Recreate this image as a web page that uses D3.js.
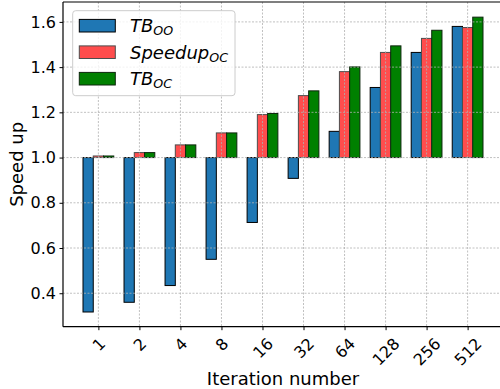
<!DOCTYPE html>
<html>
<head>
<meta charset="utf-8">
<script src="https://cdn.jsdelivr.net/npm/d3@7"></script>
<style>
body { margin: 0; background: #fff; }
text { font-family: "DejaVu Sans", sans-serif; }
</style>
</head>
<body>
<svg id="chart" width="500" height="389"></svg>
<script>
const categories = ["1", "2", "4", "8", "16", "32", "64", "128", "256", "512"];
const tbOO = [0.317, 0.360, 0.434, 0.550, 0.713, 0.908, 1.116, 1.310, 1.465, 1.580];
const speedupOC = [1.007, 1.022, 1.056, 1.109, 1.190, 1.274, 1.380, 1.465, 1.527, 1.575];
const tbOC = [1.007, 1.022, 1.056, 1.109, 1.195, 1.295, 1.401, 1.494, 1.563, 1.621];
const yTicks = [0.4, 0.6, 0.8, 1.0, 1.2, 1.4, 1.6];
const seriesNames = [["TB", "OO"], ["Speedup", "OC"], ["TB", "OC"]];

const series = [
  { values: tbOO, fill: "#1f77b4", stroke: "#000", offset: -1 },
  { values: speedupOC, fill: "#ff4d4d", stroke: "#4d4d4d", offset: 0 },
  { values: tbOC, fill: "#008000", stroke: "#0d260d", offset: 1 }
];

const svg = d3.select("#chart");
const mLeft = 63, mRight = 503, mTop = 2, mBottom = 326.7;
const barW = 0.25;

const x = d3.scaleLinear().domain([-0.8625, 9.8625]).range([mLeft, mRight]);
const y = d3.scaleLinear().domain([0.252, 1.688]).range([mBottom, mTop]);

// bars
series.forEach(s => {
  svg.append("g").selectAll("rect").data(s.values).join("rect")
    .attr("x", (d, i) => x(i + s.offset * barW - barW / 2))
    .attr("width", x(barW) - x(0))
    .attr("y", d => y(Math.max(d, 1)))
    .attr("height", d => Math.abs(y(d) - y(1)))
    .attr("fill", s.fill)
    .attr("stroke", s.stroke)
    .attr("stroke-width", 1);
});

// grid (above bars, as in matplotlib default)
const grid = svg.append("g").attr("stroke", "#b0b0b0").attr("stroke-dasharray", "2,1.5").attr("stroke-width", 0.8);
grid.selectAll(".gy").data(yTicks).join("line")
  .attr("x1", mLeft).attr("x2", mRight)
  .attr("y1", d => y(d)).attr("y2", d => y(d));
grid.selectAll(".gx").data(categories).join("line")
  .attr("y1", mTop).attr("y2", mBottom)
  .attr("x1", (d, i) => x(i)).attr("x2", (d, i) => x(i));

// axes
const yAxis = d3.axisLeft(y).tickValues(yTicks).tickFormat(d3.format(".1f")).tickSize(3.5).tickPadding(3.5);
const yg = svg.append("g").attr("transform", `translate(${mLeft},0)`).call(yAxis);
yg.select(".domain").remove();
yg.selectAll("text").attr("font-size", 16).attr("font-family", "DejaVu Sans").attr("fill", "#000");

const xAxis = d3.axisBottom(x).tickValues(d3.range(categories.length)).tickFormat(i => categories[i]).tickSize(3.5).tickPadding(3.5);
const xg = svg.append("g").attr("transform", `translate(0,${mBottom})`).call(xAxis);
xg.select(".domain").remove();
xg.selectAll("text").each(function() {
  const t = d3.select(this);
  t.attr("font-size", 16).attr("font-family", "DejaVu Sans").attr("fill", "#000");
  const w = this.getComputedTextLength();
  const h = 12;
  const bh = (w + h) * Math.SQRT1_2;
  const cy = 10 + bh / 2;
  t.attr("y", null).attr("dy", null)
    .attr("text-anchor", "middle")
    .attr("dominant-baseline", "central")
    .attr("transform", `translate(0,${cy}) rotate(-45)`);
});

// spines
svg.append("line").attr("x1", mLeft).attr("x2", mLeft).attr("y1", mTop).attr("y2", mBottom).attr("stroke", "#000").attr("stroke-width", 1.2);
svg.append("line").attr("x1", mLeft).attr("x2", mRight).attr("y1", mBottom).attr("y2", mBottom).attr("stroke", "#000").attr("stroke-width", 1.2);
svg.append("line").attr("x1", mLeft).attr("x2", mRight).attr("y1", mTop).attr("y2", mTop).attr("stroke", "#000").attr("stroke-width", 1.2);

// axis labels
svg.append("text").attr("x", (mLeft + mRight) / 2).attr("y", 385).attr("text-anchor", "middle")
  .attr("font-size", 18).text("Iteration number");
svg.append("text").attr("transform", `translate(23,${(mTop + mBottom) / 2}) rotate(-90)`).attr("text-anchor", "middle")
  .attr("font-size", 18).text("Speed up");

// legend
const lg = svg.append("g");
lg.append("rect").attr("x", 72.7).attr("y", 10.7).attr("width", 162.3).attr("height", 85)
  .attr("rx", 3).attr("fill", "#fff").attr("fill-opacity", 0.8).attr("stroke", "#cccccc").attr("stroke-width", 1);
series.forEach((s, k) => {
  const cy = 25.7 + k * 26.5;
  lg.append("rect").attr("x", 79.3).attr("y", cy - 6.3).attr("width", 36).attr("height", 12.6)
    .attr("fill", s.fill).attr("stroke", s.stroke).attr("stroke-width", 1);
  const t = lg.append("text").attr("x", 130).attr("y", cy + 6.6).attr("font-size", 18).attr("font-style", "italic");
  t.append("tspan").text(seriesNames[k][0]);
  t.append("tspan").attr("font-size", 12.6).attr("dy", 3).text(seriesNames[k][1]);
});
</script>
</body>
</html>
